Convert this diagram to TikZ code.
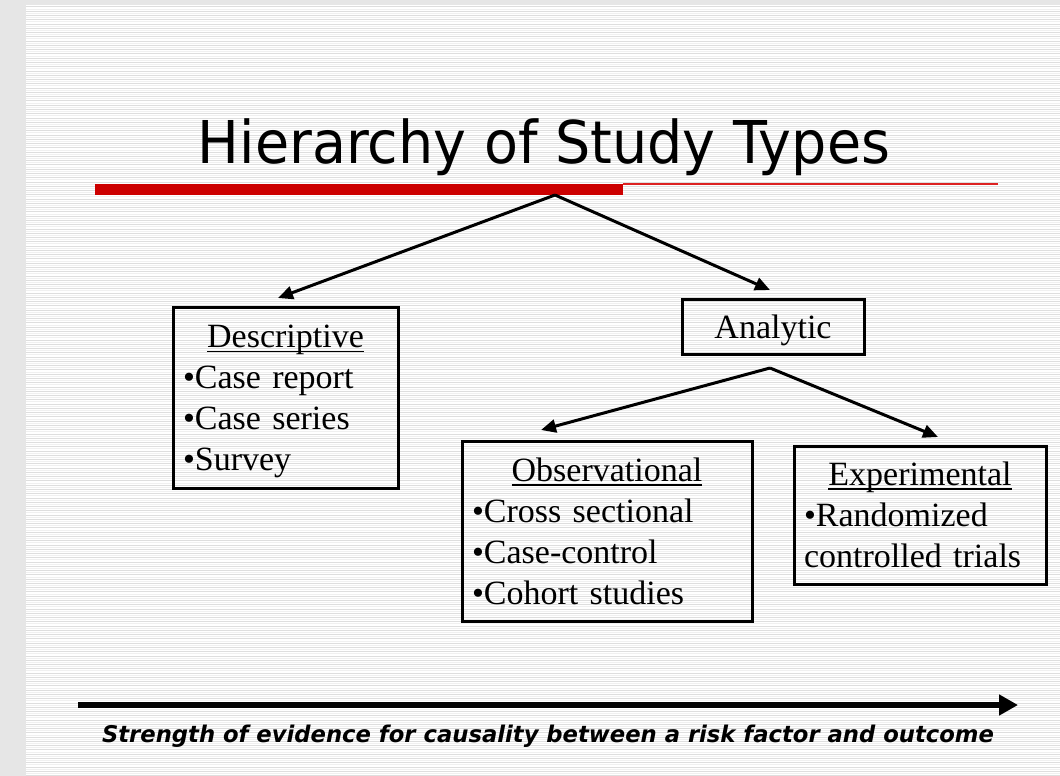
\documentclass[tikz,border=0pt]{standalone}
\usepackage{fontspec}
\setmainfont{Liberation Serif}
\newfontfamily\titlefont{DejaVu Sans}
\usetikzlibrary{arrows.meta}
\definecolor{slidered}{HTML}{CC0000}
\definecolor{thinred}{HTML}{DD2222}
\definecolor{margingray}{HTML}{E6E6E6}
\definecolor{stripedark}{HTML}{DEDEDE}
\definecolor{stripelight}{HTML}{F0F0F0}
% underlined box heading
\newcommand\headul[1]{\sbox0{#1}\rlap{\rule[-4.5pt]{\wd0}{1.8pt}}\usebox0}
% taller first line, lowering the text block inside its frame
\newcommand\lowstrut{\rule{0pt}{31pt}}
\begin{document}
\begin{tikzpicture}[x=1pt,y=-1pt,
  box/.style={draw,line width=3pt,align=left,inner xsep=10pt,inner ysep=0pt,
    font=\fontsize{34}{41}\selectfont},
  link/.style={line width=3pt,-{Triangle[length=15pt,width=13pt]}},
  bigarrow/.style={line width=6.5pt,-{Triangle[length=19pt,width=20pt]}},
]
\useasboundingbox (0,0) rectangle (1060,776);
% slide background with ruled stripes
\fill[margingray] (0,0) rectangle (1060,776);
\fill[white] (26,5) rectangle (1060,776);
\foreach \i in {0,...,180} {
  \draw[stripedark,line width=1pt] (26,7+\i*4.27) -- (1060,7+\i*4.27);
  \draw[stripelight,line width=1pt] (26,9.1+\i*4.27) -- (1060,9.1+\i*4.27);
}
% title and red rule
\node[anchor=base,inner sep=0pt] (title) at (544,163)
  {\titlefont\fontsize{59}{70}\selectfont\resizebox{692pt}{\height}{Hierarchy of Study Types}};
\fill[slidered] (95,184) rectangle (623,195);
\fill[thinred] (623,182.5) rectangle (998,184.5);

% study type boxes
\node[box,minimum width=225pt,minimum height=181pt,text width=205pt] (desc) at (285.5,397.5)
  {\makebox[\linewidth]{\lowstrut\headul{Descriptive}}\\•Case report\\•Case series\\•Survey};
\node[box,minimum width=182pt,minimum height=55pt,align=center] (anal) at (773,326.5) {\lowstrut Analytic};
\node[box,minimum width=290pt,minimum height=180pt,text width=270pt] (obs) at (607,531)
  {\makebox[\linewidth]{\headul{Observational}}\\•Cross sectional\\•Case-control\\•Cohort studies};
\node[box,minimum width=252pt,minimum height=138pt,text width=232pt] (exp) at (920,515)
  {\makebox[\linewidth]{\headul{Experimental}}\\•Randomized\\controlled trials};

% branching arrows
\coordinate (root) at (555,195);
\coordinate (rootL) at (278,298);
\coordinate (rootR) at (770,290);
\coordinate (fork) at (770,368);
\coordinate (forkL) at (541,430);
\coordinate (forkR) at (938,437);
\draw[link] (root) -- (rootL);
\draw[link] (root) -- (rootR);
\draw[link] (fork) -- (forkL);
\draw[link] (fork) -- (forkR);

% evidence axis
\coordinate (axisA) at (78,705);
\coordinate (axisB) at (1018,705);
\draw[bigarrow] (axisA) -- (axisB);
\node[anchor=base,inner sep=0pt] (axislabel) at (548,742)
  {\titlefont\bfseries\itshape\fontsize{23}{28}\selectfont\resizebox{892pt}{\height}{Strength of evidence for causality between a risk factor and outcome}};
\end{tikzpicture}
\end{document}
